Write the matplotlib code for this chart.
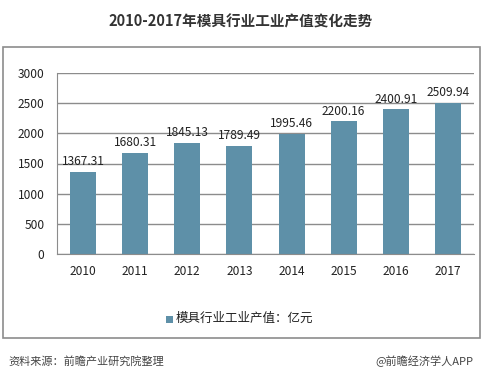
import matplotlib.pyplot as plt
from matplotlib.patches import Rectangle

plt.rcParams["font.family"] = ["Noto Sans CJK SC", "DejaVu Sans"]

years = ["2010", "2011", "2012", "2013", "2014", "2015", "2016", "2017"]
values = [1367.31, 1680.31, 1845.13, 1789.49, 1995.46, 2200.16, 2400.91, 2509.94]
yticks = [0, 500, 1000, 1500, 2000, 2500, 3000]

bar_color = "#5E90A8"
grid_color = "#8C8C8C"

fig = plt.figure(figsize=(4.82, 3.81), dpi=100)

# outer frame of the chart
fig.patches.append(
    Rectangle((3 / 482, 43 / 381), 477 / 482, 291 / 381, transform=fig.transFigure,
              fill=False, edgecolor="#8C8C8C", linewidth=1.2)
)

ax = fig.add_axes([57 / 482, 127 / 381, 417 / 482, 181 / 381])
x = range(len(years))
ax.bar(x, values, width=0.5, color=bar_color, zorder=2)

for xi, v in zip(x, values):
    ax.text(xi, v + 60, f"{v:.2f}", ha="center", va="bottom", fontsize=8.6, color="#222222")

ax.set_xlim(-0.5, len(years) - 0.5)
ax.set_ylim(0, 3000)
ax.set_yticks(yticks)
ax.set_xticks(list(x))
ax.set_xticklabels(years)
ax.tick_params(axis="both", length=0, labelsize=8.6, colors="#222222")
ax.tick_params(axis="y", pad=9)
ax.tick_params(axis="x", pad=8)
ax.grid(axis="y", color=grid_color, linewidth=1.0, zorder=0)
for side in ["top", "right"]:
    ax.spines[side].set_visible(False)
ax.spines["left"].set_color(grid_color)
ax.spines["bottom"].set_color(grid_color)

fig.text(0.5, 1 - 22 / 381, "2010-2017年模具行业工业产值变化走势", ha="center", va="center",
         fontsize=10.5, fontweight="bold", color="#333333")

# legend
fig.patches.append(
    Rectangle((166 / 482, (381 - 323) / 381), 7 / 482, 7 / 381, transform=fig.transFigure,
              facecolor=bar_color, edgecolor="none")
)
fig.text(176 / 482, 1 - 318 / 381, "模具行业工业产值：亿元", ha="left", va="center",
         fontsize=9, color="#222222")

fig.text(8 / 482, 1 - 361 / 381, "资料来源：前瞻产业研究院整理", ha="left", va="center",
         fontsize=8, style="italic", color="#444444")
fig.text(473 / 482, 1 - 361 / 381, "@前瞻经济学人APP", ha="right", va="center",
         fontsize=8, color="#444444")

fig.savefig("out.png", dpi=100)
